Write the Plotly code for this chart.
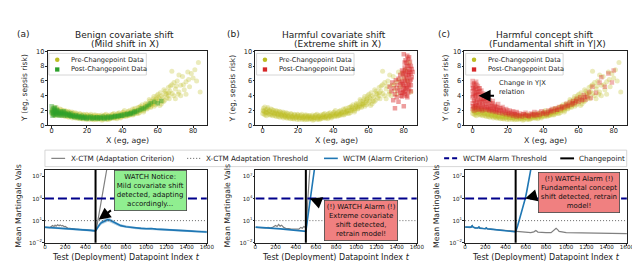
import plotly.graph_objects as go

FONT = "DejaVu Sans"
W, H = 640, 261

# ---------------- top row: scatter data ----------------
PRE_POINTS = [
    (0, 1.6), (0.5, 2.3), (1, 1.9), (1.5, 1.4), (2, 2.1), (2.5, 1.7), (3, 2.4), (3.5, 1.5), (4, 1.9), (5, 1.4),
    (5.5, 2.1), (6, 1.7), (7, 1.3), (7.5, 2.0), (8, 1.6), (9, 1.2), (9.5, 1.9), (10, 1.5), (11, 1.2), (11.5, 1.8),
    (12, 1.4), (13, 1.1), (13.5, 1.7), (14, 1.3), (15, 1.0), (16, 1.6), (16.5, 1.2), (17, 0.9), (18, 1.5), (19, 1.1),
    (19.5, 0.8), (20, 1.4), (21, 1.0), (22, 1.3), (22.5, 0.8), (23, 1.1), (24, 1.4), (25, 0.8), (25.5, 1.1), (26, 1.3),
    (27, 0.9), (28, 1.2), (28.5, 0.7), (29, 1.0), (30, 1.4), (31, 0.8), (31.5, 1.1), (32, 1.3), (33, 0.9), (34, 1.2),
    (34.5, 1.5), (35, 1.0), (36, 1.3), (37, 0.9), (37.5, 1.6), (38, 1.2), (39, 1.0), (40, 1.5), (40.5, 1.8), (41, 1.2),
    (42, 1.6), (43, 1.3), (43.5, 1.9), (44, 1.5), (45, 1.8), (46, 1.4), (46.5, 2.1), (47, 1.7), (48, 2.0), (49, 1.6),
    (49.5, 2.4), (50, 2.0), (51, 2.5), (52, 1.8), (52.5, 2.3), (53, 2.8), (54, 2.2), (55, 2.7), (55.5, 3.3), (56, 2.4),
    (57, 3.0), (57.5, 3.6), (58, 2.6), (59, 3.3), (59.5, 4.0), (60, 3.0), (61, 3.6), (61.5, 4.4), (62, 2.9), (63, 3.8),
    (63.5, 4.8), (64, 3.4), (65, 4.2), (66, 5.1), (66.5, 3.6), (67, 4.6), (68, 5.5), (69, 4.0), (70, 4.9), (71, 6.0),
    (72, 4.5), (73, 5.4), (74, 6.6), (75, 4.8), (76, 5.9), (77, 7.2), (78, 5.2), (80, 6.4), (81, 7.5), (83, 8.5), (84, 4.5),
    (0.5, 1.9), (2, 1.8), (4.5, 1.6), (6.5, 1.5), (8.5, 1.4), (10.5, 1.3), (12.5, 1.2), (14.5, 1.1), (17.5, 1.1),
    (20.5, 1.0), (23.5, 0.95), (26.5, 1.0), (29.5, 1.05), (32.5, 1.0), (35.5, 1.15), (38.5, 1.3), (41.5, 1.4),
    (44.5, 1.6), (47.5, 1.85), (50.5, 2.2), (53.5, 2.5), (56.5, 2.9), (58.5, 3.4), (60.5, 3.8), (62.5, 3.3),
    (64.5, 4.3), (66, 4.0), (68, 7.3), (72, 6.8), (79, 7.0), (82, 6.0), (76, 4.2), (70, 3.6), (73, 4.0),
    (0.2, 2.0), (0.8, 1.5), (1.2, 2.5), (1.8, 1.7), (2.2, 1.3), (2.8, 2.2), (3.2, 1.8), (3.8, 2.0), (4.2, 1.4),
    (4.8, 2.2), (5.2, 1.8), (5.8, 1.3), (6.2, 2.0), (6.8, 1.6), (7.2, 1.8), (7.8, 1.2), (8.2, 1.9), (8.8, 1.5),
    (9.2, 1.7), (9.8, 1.1), (10.2, 1.8), (10.8, 1.4), (11.2, 1.6), (11.8, 1.0), (12.2, 1.7), (12.8, 1.3),
    (13.2, 1.5), (13.8, 0.95), (14.2, 1.6), (14.8, 1.2), (15.2, 1.4), (15.8, 0.9), (16.2, 1.5), (16.8, 1.1),
    (17.2, 1.3), (17.8, 0.85), (18.2, 1.4), (18.8, 1.0), (19.2, 1.25), (19.8, 1.5), (20.2, 1.2), (20.8, 0.8),
    (21.2, 1.35), (21.8, 1.05), (22.2, 1.5), (22.8, 0.95), (23.2, 1.25), (23.8, 0.75), (24.2, 1.2), (24.8, 1.4),
    (25.2, 0.95), (25.8, 1.25), (26.2, 0.8), (26.8, 1.35), (27.2, 1.1), (27.8, 0.85), (28.2, 1.4), (28.8, 1.15),
    (29.2, 0.8), (29.8, 1.3), (30.2, 1.05), (30.8, 1.5), (31.2, 0.9), (31.8, 1.25), (32.2, 0.8), (32.8, 1.4),
    (33.2, 1.15), (33.8, 0.95), (34.2, 1.45), (34.8, 1.1), (35.2, 1.6), (35.8, 0.95), (36.2, 1.2), (36.8, 1.5),
    (37.2, 1.05), (37.8, 1.35), (38.2, 1.7), (38.8, 1.15), (39.2, 1.5), (39.8, 1.25), (40.2, 1.7), (40.8, 1.3),
    (41.2, 2.0), (41.8, 1.55), (42.2, 1.25), (42.8, 1.8), (43.2, 1.5), (43.8, 1.35), (44.2, 2.0), (44.8, 1.7),
    (45.2, 1.45), (45.8, 2.2), (46.2, 1.8), (46.8, 1.55), (47.2, 2.3), (47.8, 1.9), (48.2, 1.65), (48.8, 2.4),
    (49.2, 2.0), (49.8, 1.75), (50.2, 2.6), (50.8, 2.0), (51.2, 2.8), (51.8, 2.2), (52.2, 2.0), (52.8, 2.6),
    (53.2, 3.0), (53.8, 2.3), (54.2, 2.9), (54.8, 2.5), (55.2, 3.5), (55.8, 2.9), (56.2, 2.6), (56.8, 3.3),
    (57.2, 2.8), (57.8, 3.9), (58.2, 3.1), (58.8, 2.8), (59.2, 3.6), (60.2, 4.2), (60.8, 3.3), (61.2, 2.7),
    (62.2, 4.0), (63.2, 3.2), (64.2, 4.6), (65.2, 3.7), (66.2, 4.4), (67.2, 5.3), (68.2, 4.3), (69.2, 5.8),
    (70.5, 5.3), (71.5, 4.2), (74.5, 5.5), (77.5, 6.2),
]

POST_A_POINTS = [
    (0, 1.8), (0, 2.6), (0.5, 1.3), (1, 2.2), (1, 1.6), (1.5, 2.0), (2, 1.4), (2, 2.4), (2.5, 1.8), (3, 1.5),
    (3, 2.1), (4, 1.7), (4.5, 1.3), (5, 1.9), (5.5, 1.5), (6, 1.7), (7, 1.3), (7, 1.9), (8, 1.5), (9, 1.3),
    (9, 1.7), (10, 1.4), (11, 1.2), (11, 1.6), (12, 1.3), (13, 1.1), (14, 1.4), (15, 1.2), (16, 1.0), (17, 1.3),
    (18, 1.0), (19, 1.2), (20, 0.9), (21, 1.1), (22, 1.2), (23, 0.9), (24, 1.1), (25, 1.0), (26, 0.9), (27, 1.1),
    (28, 1.0), (29, 1.2), (30, 0.9), (31, 1.1), (32, 1.2), (33, 1.0), (34, 1.2), (35, 1.1), (36, 1.3), (37, 1.2),
    (38, 1.3), (39, 1.4), (40, 1.3), (41, 1.5), (42, 1.4), (43, 1.6), (44, 1.5), (45, 1.7), (46, 1.6), (47, 1.9),
    (48, 1.8), (50, 2.1), (51, 2.3), (53, 2.4), (55, 2.8), (56, 3.0), (58, 3.2), (60, 3.0), (62, 3.3),
    (0.2, 2.0), (0.7, 1.7), (1.2, 1.4), (1.7, 2.3), (2.2, 1.9), (2.7, 1.6), (3.2, 2.0), (3.7, 1.4), (4.2, 1.8),
    (5.2, 1.6), (6.2, 1.4), (6.7, 1.8), (7.7, 1.6), (8.7, 1.4), (9.7, 1.5), (10.7, 1.3), (11.7, 1.4), (12.7, 1.2),
    (13.7, 1.3), (14.7, 1.1), (15.7, 1.2), (16.7, 1.1), (17.7, 1.0), (18.7, 1.1), (19.7, 1.0), (21.7, 1.0),
    (23.7, 1.0), (25.7, 1.1), (27.7, 0.95), (29.7, 1.05), (31.7, 1.0), (33.7, 1.1), (35.7, 1.2), (37.7, 1.25),
    (39.7, 1.3), (42.7, 1.5), (44.7, 1.6), (46.7, 1.8), (49, 2.0), (52, 2.2), (54, 2.6),
]

POST_B_POINTS = [
    (72, 5.2), (73, 4.6), (73.5, 5.8), (74, 3.4), (74.5, 5.0), (75, 2.3), (75, 4.2), (75.5, 6.1), (76, 3.8), (76, 5.4),
    (76.5, 4.7), (77, 3.2), (77, 6.3), (77.5, 5.0), (78, 4.4), (78, 6.8), (78.5, 5.6), (79, 3.9), (79, 7.4), (79, 6.0),
    (79.5, 4.8), (80, 2.6), (80, 5.3), (80, 6.6), (80, 9.6), (80.5, 4.2), (80.5, 7.8), (81, 5.8), (81, 6.9), (81, 4.6),
    (81.5, 8.4), (81.5, 5.2), (82, 6.2), (82, 7.3), (82, 3.8), (82.5, 9.0), (82.5, 5.6), (83, 6.8), (83, 4.9), (83, 8.0),
    (83.5, 6.0), (83.5, 7.5), (84, 7.0), (84, 5.4), (84.5, 6.5), (85, 7.2), (83, 9.2), (81, 8.8),
    (78.5, 4.0), (79.5, 5.5), (79.5, 7.0), (80, 4.5), (80, 7.2), (80.5, 6.0), (80.5, 5.0), (81, 7.5), (81.5, 6.4),
    (81.5, 4.0), (82, 5.0), (82, 8.0), (82.5, 6.8), (82.5, 4.4), (83, 5.5), (83, 7.2), (83.5, 8.6), (84, 6.2),
    (84, 4.6), (84.5, 7.6), (79, 4.4), (78, 5.8), (80.5, 8.5), (82, 9.4), (84, 8.0),
]

POST_C_POINTS = [
    (0, 2.2), (0, 3.0), (0, 3.8), (0, 4.6), (0, 5.4), (0, 6.0), (0.5, 2.6), (0.5, 4.2), (0.5, 5.0), (1, 2.0),
    (1, 3.4), (1, 4.8), (1, 5.7), (1.5, 2.8), (1.5, 4.0), (1.5, 5.2), (2, 2.3), (2, 3.6), (2, 4.4), (2, 5.9),
    (2.5, 3.1), (2.5, 4.9), (3, 2.1), (3, 3.8), (3, 5.3), (3.5, 2.7), (3.5, 4.5), (4, 2.2), (4, 3.3), (4, 5.0),
    (4.5, 4.1), (5, 2.5), (5, 3.6), (5, 4.7), (5.5, 2.0), (5.5, 3.1), (6, 4.3), (6, 2.6), (6.5, 3.5), (7, 2.2),
    (7, 4.0), (7.5, 2.9), (8, 3.6), (8, 2.1), (8.5, 3.2), (9, 2.5), (9, 3.9), (9.5, 2.0), (10, 3.0), (10, 2.3),
    (11, 2.7), (11, 1.9), (11.5, 3.3), (12, 2.2), (12.5, 2.8), (13, 1.8), (13.5, 2.5), (14, 2.1), (14.5, 2.9), (15, 1.7),
    (15.5, 2.3), (16, 2.0), (17, 1.6), (17, 2.5), (18, 1.9), (19, 1.5), (19, 2.2), (20, 1.7), (21, 1.4), (21, 2.0),
    (22, 1.6), (23, 1.3), (23, 1.9), (24, 1.5), (25, 1.2), (25, 1.8), (26, 1.4), (27, 1.6), (28, 1.2), (29, 1.5),
    (30, 1.3), (30, 1.7), (31, 1.4), (32, 1.2), (33, 1.6), (34, 1.4), (35, 1.3), (35, 1.8), (36, 1.5), (37, 1.7),
    (38, 1.4), (39, 1.9), (40, 1.6), (41, 1.8), (42, 1.5), (43, 2.0), (44, 1.8), (45, 2.2), (46, 1.9), (47, 2.3),
    (48, 2.1), (49, 2.5), (50, 2.2), (51, 2.6), (52, 2.4), (53, 2.9), (54, 2.6), (55, 3.1), (56, 2.8), (57, 3.3),
    (58, 3.0), (59, 3.6), (60, 3.2), (61, 3.8), (62, 3.4), (63, 4.1), (64, 3.5), (65, 3.9), (66, 4.5), (67, 3.7),
    (68, 5.2), (70, 4.4), (72, 5.8), (73, 6.5), (75, 5.2), (77, 7.0), (79, 5.8), (80, 7.4),
    (0.2, 2.6), (0.2, 4.0), (0.2, 5.0), (0.7, 3.3), (0.7, 5.6), (1.2, 2.4), (1.2, 4.3), (1.7, 3.0), (1.7, 4.9),
    (2.2, 2.7), (2.2, 4.1), (2.2, 5.5), (2.7, 3.5), (2.7, 4.5), (3.2, 2.5), (3.2, 4.2), (3.7, 3.1), (3.7, 5.0),
    (4.2, 2.8), (4.2, 4.6), (4.7, 3.4), (5.2, 2.2), (5.2, 4.0), (5.7, 3.6), (5.7, 2.8), (6.2, 3.2), (6.7, 2.4),
    (6.7, 4.1), (7.2, 3.3), (7.7, 2.6), (7.7, 3.7), (8.2, 2.4), (8.7, 3.0), (9.2, 2.2), (9.7, 3.4), (10.2, 2.6),
    (10.7, 2.1), (11.2, 3.0), (11.7, 2.4), (12.2, 2.0), (12.7, 2.6), (13.2, 2.2), (13.7, 1.9), (14.2, 2.5),
    (15.2, 2.0), (16.2, 2.3), (16.7, 1.8), (17.7, 2.1), (18.7, 1.7), (19.7, 2.0), (20.7, 1.6), (22.2, 1.8),
    (23.7, 1.5), (24.7, 1.7), (26.7, 1.3), (28.7, 1.5), (31.7, 1.3), (33.7, 1.5), (36.7, 1.4), (39.7, 1.6),
    (42.7, 1.7), (44.7, 2.0), (47.7, 2.1), (50.7, 2.4), (53.7, 2.7), (56.7, 3.0), (58.7, 3.3), (61.7, 3.5), (63.7, 3.8),
]

# ---------------- bottom row: mean martingale values ----------------
CHANGEPOINT = 500
XCTM_THRESHOLD = 10
WCTM_THRESHOLD = 1e4

WCTM_A_T = [0, 50, 100, 150, 200, 250, 300, 350, 400, 450, 500, 520, 540, 560, 580, 600, 620, 640, 660, 680,
            700, 725, 750, 800, 850, 900, 950, 1000, 1050, 1100, 1150, 1200, 1250, 1300, 1350, 1400, 1450, 1500, 1550, 1600]
WCTM_A = [1.26, 1.15, 1.05, 0.98, 0.9, 0.8, 0.72, 0.64, 0.56, 0.48, 0.4, 1.3, 3.0, 5.6, 8.2, 11.5, 13.5, 12.0, 8.5, 5.5,
          3.8, 2.8, 2.1, 1.5, 1.2, 1.0, 0.9, 0.8, 0.85, 0.7, 0.62, 0.56, 0.5, 0.46, 0.42, 0.4, 0.37, 0.34, 0.31, 0.29]
WCTM_A_HI = [1.7, 1.55, 1.45, 1.35, 1.25, 1.1, 1.0, 0.9, 0.78, 0.67, 0.56, 2.2, 5.5, 10.5, 16, 22, 26, 23, 16, 10,
             6.5, 4.5, 3.2, 2.2, 1.7, 1.4, 1.25, 1.1, 1.2, 0.98, 0.87, 0.78, 0.7, 0.64, 0.59, 0.56, 0.52, 0.48, 0.44, 0.41]
WCTM_A_LO = [0.9, 0.82, 0.75, 0.7, 0.64, 0.57, 0.51, 0.46, 0.4, 0.34, 0.28, 0.75, 1.6, 3.0, 4.3, 6.0, 7.0, 6.2, 4.5, 3.0,
             2.2, 1.7, 1.35, 1.0, 0.83, 0.7, 0.63, 0.56, 0.58, 0.49, 0.44, 0.4, 0.36, 0.33, 0.3, 0.28, 0.26, 0.24, 0.22, 0.2]
XCTM_A_T = [0, 25, 50, 60, 75, 90, 100, 110, 125, 140, 150, 165, 175, 190, 200, 225, 250, 300, 350, 400, 450, 500,
            510, 525, 550, 575, 600, 620]
XCTM_A = [1.2, 1.15, 1.1, 1.5, 2.2, 1.6, 2.5, 1.8, 2.8, 2.0, 2.6, 1.9, 2.2, 1.5, 1.6, 1.0, 0.85, 0.7, 0.62, 0.55, 0.47, 0.4,
          0.95, 15, 1.4e3, 1.3e5, 1.3e7, 5e8]

WCTM_B_T = [0, 25, 50, 75, 100, 125, 150, 175, 200, 250, 300, 350, 400, 450, 490, 500, 520, 545, 565, 585, 600]
WCTM_B = [1.3, 1.2, 1.15, 1.1, 1.05, 1.1, 0.95, 0.9, 0.85, 0.75, 0.65, 0.57, 0.5, 0.43, 0.38, 0.36,
          35, 1e4, 1e6, 1e8, 3e9]
XCTM_B_T = [0, 50, 100, 125, 150, 175, 200, 215, 230, 245, 260, 280, 300, 350, 400, 430, 450, 465, 480, 495,
            505, 520, 535, 550]
XCTM_B = [1.25, 1.1, 1.0, 1.2, 0.95, 1.4, 2.2, 1.6, 3.0, 1.8, 2.4, 1.2, 0.9, 0.75, 0.65, 0.7, 1.2, 0.9, 1.6, 1.1,
          1.0, 1e4, 1e7, 1e10]

WCTM_C_T = [0, 25, 50, 60, 70, 80, 100, 125, 135, 145, 175, 200, 210, 220, 250, 300, 350, 400, 450, 500,
            520, 540, 560, 580, 595, 610, 630, 650, 670]
WCTM_C = [1.35, 1.25, 1.15, 1.3, 2.0, 1.3, 1.05, 1.0, 1.3, 0.95, 0.85, 0.8, 1.0, 0.78, 0.7, 0.6, 0.52, 0.45, 0.38, 0.3,
          2.0, 16, 126, 1.6e3, 1e4, 1e5, 2.5e6, 1e8, 3e9]
XCTM_C_T = [0, 25, 50, 60, 70, 80, 100, 130, 140, 150, 200, 210, 220, 250, 300, 350, 400, 450, 500,
            550, 600, 650, 680, 700, 720, 750, 800, 850, 880, 900, 915, 930, 1000, 1100, 1200, 1300, 1400, 1500, 1600]
XCTM_C = [1.3, 1.2, 1.1, 1.4, 2.2, 1.3, 1.0, 1.0, 1.4, 0.95, 0.8, 1.1, 0.75, 0.7, 0.6, 0.52, 0.45, 0.38, 0.3,
          0.26, 0.24, 0.23, 0.3, 0.45, 0.28, 0.24, 0.23, 0.23, 0.45, 0.9, 0.6, 0.35, 0.24, 0.22, 0.21, 0.2, 0.19, 0.18, 0.17]

TOP_TICKS_X = [0, 20, 40, 60, 80]
TOP_TICKS_Y = [0, 2, 4, 6, 8, 10]
BOT_TICKS_X = [0, 200, 400, 600, 800, 1000, 1200, 1400, 1600]
BOT_TICKS_Y = [1e-2, 1e1, 1e4, 1e7]
BOT_TICK_TEXT = ["10<sup>\u22122</sup>", "10<sup>1</sup>", "10<sup>4</sup>", "10<sup>7</sup>"]

OLIVE, GREEN, RED = "#bcbd22", "#2ca02c", "#d62728"
BLUE, GREY, NAVY = "#1f77b4", "#808080", "#00008b"


def pxx(x):
    return x / W


def pyy(y):
    return 1 - y / H


fig = go.Figure()


def xy(points):
    return [p[0] for p in points], [p[1] for p in points]


# ---- top scatter panels ----
top_panels = [("x", "y", POST_A_POINTS, GREEN, 0.42), ("x2", "y2", POST_B_POINTS, RED, 0.45),
              ("x3", "y3", POST_C_POINTS, RED, 0.35)]
for xa, ya, post, col, op in top_panels:
    px_, py_ = xy(PRE_POINTS)
    fig.add_trace(go.Scatter(x=px_, y=py_, mode="markers", xaxis=xa, yaxis=ya, showlegend=False,
                             marker=dict(symbol="circle", size=5, color=OLIVE, opacity=0.3, line=dict(width=0))))
    qx, qy = xy(post)
    fig.add_trace(go.Scatter(x=qx, y=qy, mode="markers", xaxis=xa, yaxis=ya, showlegend=False,
                             marker=dict(symbol="square", size=4.5, color=col, opacity=op, line=dict(width=0))))

# ---- bottom martingale panels ----
bottom = [
    ("x4", "y4", XCTM_A_T, XCTM_A, WCTM_A_T, WCTM_A, (WCTM_A_HI, WCTM_A_LO)),
    ("x5", "y5", XCTM_B_T, XCTM_B, WCTM_B_T, WCTM_B, None),
    ("x6", "y6", XCTM_C_T, XCTM_C, WCTM_C_T, WCTM_C, None),
]
for xa, ya, xt, xv, wt, wv, band in bottom:
    fig.add_trace(go.Scatter(x=xt, y=xv, mode="lines", xaxis=xa, yaxis=ya, showlegend=False,
                             line=dict(color=GREY, width=1.2)))
    if band is not None:
        hi, lo = band
        fig.add_trace(go.Scatter(x=wt, y=hi, mode="lines", xaxis=xa, yaxis=ya, showlegend=False,
                                 line=dict(width=0), hoverinfo="skip"))
        fig.add_trace(go.Scatter(x=wt, y=lo, mode="lines", xaxis=xa, yaxis=ya, showlegend=False,
                                 line=dict(width=0), fill="tonexty", fillcolor="rgba(31,119,180,0.35)",
                                 hoverinfo="skip"))
    fig.add_trace(go.Scatter(x=wt, y=wv, mode="lines", xaxis=xa, yaxis=ya, showlegend=False,
                             line=dict(color=BLUE, width=1.6)))
    fig.add_trace(go.Scatter(x=[0, 1600], y=[XCTM_THRESHOLD, XCTM_THRESHOLD], mode="lines", xaxis=xa, yaxis=ya,
                             showlegend=False, line=dict(color="#555555", width=0.9, dash="1px,2px")))
    fig.add_trace(go.Scatter(x=[0, 1600], y=[WCTM_THRESHOLD, WCTM_THRESHOLD], mode="lines", xaxis=xa, yaxis=ya,
                             showlegend=False, line=dict(color=NAVY, width=2, dash="9px,4px")))
    fig.add_trace(go.Scatter(x=[CHANGEPOINT, CHANGEPOINT], y=[1e-3, 1e10], mode="lines", xaxis=xa, yaxis=ya,
                             showlegend=False, line=dict(color="black", width=2)))


def axis(domain, anchor, tickvals, size, standoff, **kw):
    d = dict(domain=domain, anchor=anchor, showline=True, mirror=True, linecolor="#222", linewidth=0.8,
             ticks="outside", ticklen=2, tickwidth=0.8, tickcolor="#222", showgrid=False, zeroline=False,
             tickvals=tickvals, ticklabelstandoff=standoff,
             tickfont=dict(family=FONT, size=size, color="#222"))
    d.update(kw)
    return d


TOP_Y = [pyy(117), pyy(40.5)]
BOT_Y = [pyy(238), pyy(162.5)]
TOP_X = [(38.3, 200), (249.3, 413.3), (461.7, 626.7)]
BOT_X = [(35.5, 200), (249.3, 413.3), (462.3, 626.7)]
TOP_XR = [[-2.2, 87.8], [-4.1, 87.4], [-4.6, 87.5]]

layout = dict(width=W, height=H, margin=dict(l=0, r=0, t=0, b=0), paper_bgcolor="white", plot_bgcolor="white",
              font=dict(family=FONT, color="#222"), showlegend=False)
for i in range(3):
    n = "" if i == 0 else str(i + 1)
    layout["xaxis" + n] = axis([pxx(TOP_X[i][0]), pxx(TOP_X[i][1])], "y" + n, TOP_TICKS_X, 6.6, -3, range=TOP_XR[i])
    layout["yaxis" + n] = axis(TOP_Y, "x" + n, TOP_TICKS_Y, 6.6, -1, range=[0, 10])
    m = str(i + 4)
    layout["xaxis" + m] = axis([pxx(BOT_X[i][0]), pxx(BOT_X[i][1])], "y" + m, BOT_TICKS_X, 5.6, -3, range=[0, 1600])
    layout["yaxis" + m] = axis(BOT_Y, "x" + m, BOT_TICKS_Y, 5.6, -1, type="log", range=[-2, 7.95],
                               ticktext=BOT_TICK_TEXT)
fig.update_layout(**layout)

ann = []
shapes = []


def text(x, y, s, size, xanchor="center", yanchor="middle", angle=0, color="#222"):
    ann.append(dict(x=pxx(x), y=pyy(y), xref="paper", yref="paper", text=s, showarrow=False,
                    xanchor=xanchor, yanchor=yanchor, textangle=angle,
                    font=dict(family=FONT, size=size, color=color)))


# titles
titles = [("(a)", 13.5, "Benign covariate shift", 116.5, "(Mild shift in X)", 117),
          ("(b)", 227.5, "Harmful covariate shift", 329, "(Extreme shift in X)", 332.5),
          ("(c)", 440.5, "Harmful concept shift", 543, "(Fundamental shift in Y|X)", 546)]
for lab, lx, t1, x1, t2, x2 in titles:
    text(lx, 23, lab, 9.0)
    text(x1, 23.5, t1, 9.0)
    text(x2, 32.8, t2, 9.0)

# axis titles
for (x0, x1), yl in zip(TOP_X, [14, 226, 442]):
    text((x0 + x1) / 2, 132.5, "X (eg, age)", 7.8)
    text(yl, 78.5, "Y (eg, sepsis risk)", 7.6, angle=-90)
for (x0, x1), yl in zip(BOT_X, [9, 221, 434]):
    text((x0 + x1) / 2, 253.5, "Test (Deployment) Datapoint Index <i>t</i>", 8.0)
    text(yl, 200, "Mean Martingale Vals", 7.8, angle=-90)

# top legends (pre / post)
for (x0, _), col in zip(TOP_X, [GREEN, RED, RED]):
    bl = x0 + 1.2
    shapes.append(dict(type="rect", xref="paper", yref="paper", x0=pxx(bl), x1=pxx(bl + 99), y0=pyy(65), y1=pyy(42.7),
                       line=dict(color="#cccccc", width=0.8), fillcolor="rgba(255,255,255,0.8)", layer="above"))
    cx = bl + 8.5
    shapes.append(dict(type="circle", xref="paper", yref="paper", x0=pxx(cx - 2.3), x1=pxx(cx + 2.3),
                       y0=pyy(49.3 + 2.3), y1=pyy(49.3 - 2.3), line=dict(width=0), fillcolor=OLIVE, layer="above"))
    shapes.append(dict(type="rect", xref="paper", yref="paper", x0=pxx(cx - 2.2), x1=pxx(cx + 2.2),
                       y0=pyy(59.3 + 2.2), y1=pyy(59.3 - 2.2), line=dict(width=0), fillcolor=col, layer="above"))
    text(bl + 20.5, 49.3, "Pre-Changepoint Data", 6.6, xanchor="left")
    text(bl + 20.5, 59.3, "Post-Changepoint Data", 6.6, xanchor="left")

# bottom shared legend
shapes.append(dict(type="rect", xref="paper", yref="paper", x0=pxx(35.5), x1=pxx(626.5), y0=pyy(159.5), y1=pyy(142.5),
                   line=dict(color="#cccccc", width=0.8), fillcolor="rgba(255,255,255,0.8)", layer="above"))
leg = [(42, "X-CTM (Adaptation Criterion)", GREY, 1.2, "solid"),
       (180, "X-CTM Adaptation Threshold", "#555555", 1.0, "1px,2px"),
       (319, "WCTM (Alarm Criterion)", BLUE, 1.6, "solid"),
       (441, "WCTM Alarm Threshold", NAVY, 2.0, "5px,3px"),
       (559, "Changepoint", "black", 2.0, "solid")]
for lx, lab, col, w, dash in leg:
    shapes.append(dict(type="line", xref="paper", yref="paper", x0=pxx(lx), x1=pxx(lx + 14), y0=pyy(151), y1=pyy(151),
                       line=dict(color=col, width=w, dash=dash), layer="above"))
    text(lx + 17.5, 151, lab, 7.2, xanchor="left")

# bottom annotation boxes
boxes = [(143, 184, "WATCH Notice:<br>Mild covariate shift<br>detected, adapting<br>accordingly...", "#90ee90"),
         (356.5, 215, "(!) WATCH Alarm (!)<br>Extreme covariate<br>shift detected,<br>retrain model!", "#f08080"),
         (578, 186.5, "(!) WATCH Alarm (!)<br>Fundamental concept<br>shift detected, retrain<br>model!", "#f08080")]
for bx, by, s, bg in boxes:
    ann.append(dict(x=pxx(bx), y=pyy(by), xref="paper", yref="paper", text=s, showarrow=False,
                    xanchor="center", yanchor="middle", align="center", bgcolor=bg, bordercolor="#444",
                    borderwidth=0.8, borderpad=2, font=dict(family=FONT, size=7.0, color="#111")))

# arrows (positions on log axes are given as log10 exponents)
arrows = [("x4", "y4", 530, 1.13, 667, 2.55),
          ("x5", "y5", 540, 4.0, 661, 3.35),
          ("x6", "y6", 594, 4.0, 701, 4.41),
          ("x3", "y3", 3.4, 4.0, 13.0, 4.0)]
for xa, ya, x, y, ax, ay in arrows:
    ann.append(dict(x=x, y=y, xref=xa, yref=ya, ax=ax, ay=ay, axref=xa, ayref=ya, text="", showarrow=True,
                    arrowhead=2, arrowsize=1.2, arrowwidth=2, arrowcolor="black", standoff=0))

ann.append(dict(x=14.0, y=5.05, xref="x3", yref="y3", text="Change in Y|X<br>relation", showarrow=False,
                xanchor="left", yanchor="middle", align="left", font=dict(family=FONT, size=6.7, color="#222")))

fig.update_layout(annotations=ann, shapes=shapes)
fig.write_html("out.html")
